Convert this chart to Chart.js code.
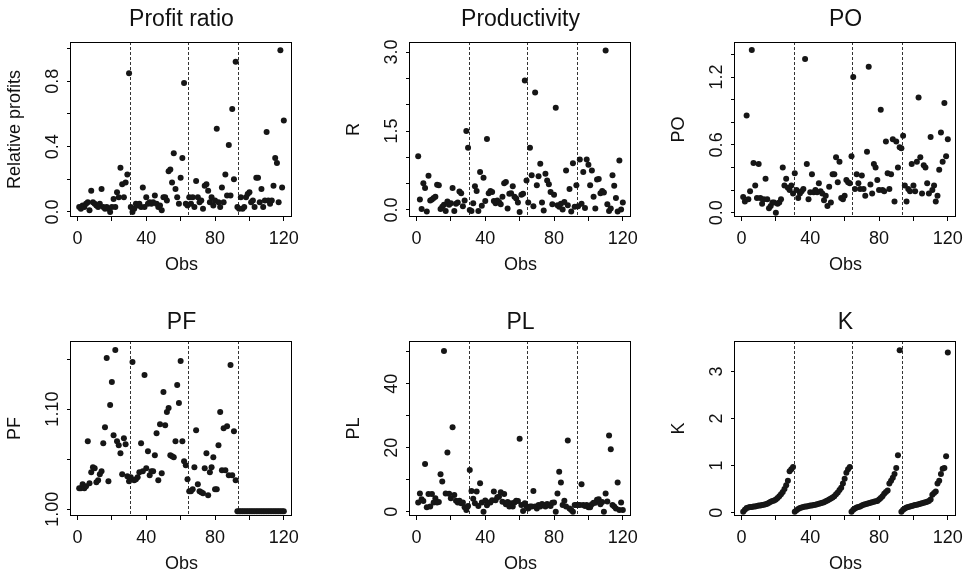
<!DOCTYPE html>
<html><head><meta charset="utf-8">
<script src="https://cdn.jsdelivr.net/npm/chart.js@4/dist/chart.umd.min.js"></script>
<style>
html,body{margin:0;padding:0;background:#fff;}
#wrap{position:relative;width:969px;height:576px;overflow:hidden;background:#fff;}
#wrap canvas{position:absolute;}
</style></head><body><div id="wrap"></div>
<script>
// ---- data ----
const obs = Array.from({length:120},(_,i)=>i+1);

const profitRatio = [
 0.03,0.02,0.04,0.03,0.05,0.06,0.01,0.13,0.06,0.05,
 0.04,0.03,0.05,0.14,0.03,0.02,0.03,0.02,0.00,0.03,
 0.08,0.03,0.12,0.09,0.27,0.17,0.09,0.18,0.23,0.85,
 0.03,0.00,0.02,0.05,0.04,0.05,0.03,0.15,0.03,0.09,
 0.05,0.06,0.05,0.06,0.10,0.05,0.03,0.04,0.01,0.09,
 0.09,0.07,0.25,0.26,0.18,0.36,0.14,0.09,0.05,0.21,
 0.33,0.79,0.05,0.04,0.09,0.05,0.09,0.03,0.19,0.09,
 0.06,0.07,0.02,0.16,0.17,0.13,0.06,0.09,0.04,0.07,
 0.51,0.06,0.03,0.15,0.06,0.23,0.10,0.41,0.10,0.63,
 0.20,0.92,0.03,0.02,0.09,0.02,0.03,0.09,0.11,0.12,
 0.06,0.07,0.03,0.21,0.21,0.06,0.14,0.03,0.07,0.49,
 0.07,0.05,0.07,0.16,0.33,0.30,0.06,0.99,0.15,0.56];

const productivity = [
 1.02,0.20,0.02,0.51,0.42,-0.03,0.65,0.18,0.20,0.23,
 0.25,0.48,0.47,0.02,0.06,0.10,-0.02,0.16,0.10,0.13,
 0.42,-0.02,0.12,0.14,0.35,0.32,0.07,0.18,1.50,1.18,
 0.00,-0.02,0.13,0.45,0.36,-0.02,0.72,0.08,0.61,0.17,
 1.35,0.32,0.36,0.34,0.17,0.13,0.18,0.15,0.11,0.25,
 0.51,0.53,0.03,0.31,0.32,0.45,0.25,0.22,0.14,-0.04,
 0.29,0.31,2.46,0.56,0.14,1.18,0.66,0.07,2.23,0.47,
 0.64,0.88,0.14,-0.01,0.69,0.56,0.49,0.34,0.11,0.29,
 1.94,0.09,0.06,0.12,0.01,0.15,0.75,0.09,0.40,-0.03,
 0.89,0.06,0.47,0.07,0.96,0.12,0.72,0.04,0.96,0.86,
 0.47,0.75,0.25,0.03,0.58,0.59,0.32,0.36,0.33,3.03,
 0.11,-0.02,0.03,0.66,0.46,0.23,-0.03,0.94,0.01,0.14];

const po = [
 0.14,0.10,0.86,0.12,0.19,1.44,0.44,0.24,0.13,0.43,
 0.13,0.08,0.12,0.30,0.12,0.04,0.06,0.09,0.09,0.00,
 0.08,0.09,0.12,0.40,0.24,0.30,0.22,0.20,0.24,0.17,
 0.35,0.20,0.13,0.17,0.19,0.21,1.36,0.43,0.12,0.18,
 0.34,0.18,0.20,0.18,0.26,0.19,0.17,0.11,0.15,0.06,
 0.23,0.09,0.34,0.34,0.49,0.27,0.45,0.13,0.12,0.15,
 0.29,0.27,0.26,0.50,1.20,0.21,0.34,0.26,0.21,0.33,
 0.21,0.15,0.54,1.29,0.25,0.17,0.43,0.40,0.29,0.20,
 0.91,0.20,0.19,0.63,0.35,0.21,0.34,0.65,0.10,0.63,
 0.40,0.58,0.57,0.68,0.24,0.10,0.21,0.19,0.43,0.24,
 0.19,0.45,1.02,0.49,0.17,0.42,0.40,0.26,0.17,0.67,
 0.20,0.24,0.10,0.15,0.38,0.71,0.45,0.97,0.50,0.65];

const pf = [
 1.021,1.021,1.025,1.021,1.023,1.068,1.026,1.037,1.042,1.041,
 1.027,1.029,1.035,1.038,1.066,1.082,1.151,1.028,1.104,1.127,
 1.074,1.159,1.068,1.064,1.056,1.035,1.071,1.065,1.033,1.028,
 1.032,1.147,1.029,1.030,1.032,1.037,1.066,1.038,1.134,1.041,
 1.058,1.034,1.038,1.038,1.054,1.076,1.029,1.085,1.036,1.117,
 1.084,1.097,1.101,1.054,1.053,1.052,1.068,1.124,1.106,1.148,
 1.068,1.048,1.044,1.030,1.018,1.018,1.020,1.042,1.079,1.025,
 1.018,1.017,1.016,1.041,1.056,1.014,1.037,1.042,1.052,1.020,
 1.020,1.064,1.097,1.039,1.081,1.039,1.083,1.034,1.144,1.034,
 1.078,1.029,0.998,0.998,0.998,0.998,0.998,0.998,0.998,0.998,
 0.998,0.998,0.998,0.998,0.998,0.998,0.998,0.998,0.998,0.998,
 0.998,0.998,0.998,0.998,0.998,0.998,0.998,0.998,0.998,0.998];

const pl = [
 2.9,5.7,3.9,3.3,14.9,1.4,5.5,1.6,5.5,2.9,
 4.2,2.9,3.0,11.7,9.4,50.3,5.7,18.5,5.6,4.2,
 26.4,5.2,3.4,2.9,3.4,2.6,2.9,1.4,0.5,1.8,
 13.0,6.5,4.0,2.6,6.3,1.8,8.9,2.9,0.0,3.5,
 2.0,2.9,2.9,3.6,6.3,3.6,4.5,4.7,6.1,3.1,
 5.5,2.3,3.0,1.6,2.6,1.6,2.9,3.4,3.3,22.8,
 2.1,0.2,2.6,1.6,1.0,1.6,1.6,6.5,1.6,1.0,
 2.1,1.6,2.4,2.1,1.6,2.4,2.1,1.8,2.8,2.9,
 0.0,5.7,12.5,9.1,2.1,3.4,1.6,22.3,1.0,0.5,
 0.0,2.1,2.1,2.1,2.1,8.6,2.1,1.8,2.1,1.4,
 1.4,2.3,2.8,2.8,3.7,3.9,2.3,3.0,0.0,5.7,
 3.2,23.8,19.5,2.1,1.6,1.0,9.1,0.5,2.9,0.5];

const k = [
 0.02,0.06,0.10,0.11,0.12,0.12,0.13,0.13,0.14,0.15,
 0.15,0.16,0.17,0.18,0.19,0.21,0.23,0.25,0.26,0.28,
 0.31,0.35,0.39,0.44,0.50,0.58,0.68,0.88,0.92,0.97,
 0.02,0.05,0.08,0.10,0.11,0.12,0.13,0.13,0.14,0.15,
 0.15,0.16,0.17,0.18,0.19,0.20,0.21,0.22,0.24,0.26,
 0.28,0.30,0.32,0.35,0.39,0.43,0.48,0.53,0.62,0.72,
 0.85,0.92,0.97,
 0.02,0.06,0.09,0.11,0.12,0.13,0.15,0.17,0.18,0.19,
 0.20,0.21,0.22,0.23,0.24,0.25,0.28,0.31,0.35,0.40,
 0.44,0.47,0.62,0.68,0.74,0.82,0.95,1.22,3.45,
 0.02,0.06,0.09,0.11,0.12,0.13,0.14,0.15,0.16,0.17,
 0.18,0.19,0.20,0.21,0.22,0.23,0.25,0.28,0.38,0.42,
 0.45,0.62,0.68,0.82,0.93,0.95,1.20,3.40];

const groupBreaks = [30.8, 64.2, 93.1];
const xTickValues = [0,20,40,60,80,100,120];
const xTickLabels = ['0','','40','','80','','120'];
const xRange = [-3.76, 124.76];

const titles  = ['Profit ratio','Productivity','PO','PF','PL','K'];
const yTitles = ['Relative profits','R','PO','PF','PL','K'];
const series  = [profitRatio, productivity, po, pf, pl, k];
const yTickValues = [
 [0,0.2,0.4,0.6,0.8,1.0],
 [0,0.5,1.0,1.5,2.0,2.5,3.0],
 [0,0.2,0.4,0.6,0.8,1.0,1.2,1.4],
 [1.00,1.05,1.10,1.15],
 [0,10,20,30,40,50],
 [0,1,2,3]];
const yTickLabels = [
 ['0.0','','0.4','','0.8',''],
 ['0.0','','','1.5','','','3.0'],
 ['0.0','','','0.6','','','1.2',''],
 ['1.00','','1.10',''],
 ['0','','20','','40',''],
 ['0','1','2','3']];
const yRanges = [[-0.031,1.041],[-0.133,3.19],[-0.038,1.51],[0.9933,1.168],[-1.36,53.4],[-0.071,3.645]];

// ---- layout ----
const FONT = '"Liberation Sans", Arial, Helvetica, sans-serif';
const boxLefts = [71,410,735];
const boxTops = [42,341];
const titleGaps = [24,20];
const BOX_W = 221, BOX_H = 175;
const PAD_L = 70, PAD_T = 40, PAD_R = 12, PAD_B = 62;
const INK = '#111';

const wrap = document.getElementById('wrap');

function makeDecor(i, row){
  return {
    id: 'decor'+i,
    beforeDatasetsDraw(chart){
      const {ctx, chartArea:ca, scales:{x}} = chart;
      ctx.save();
      ctx.strokeStyle = '#333'; ctx.lineWidth = 1; ctx.setLineDash([3,2]);
      groupBreaks.forEach(v=>{
        const px = Math.round(x.getPixelForValue(v)) + 0.5;
        ctx.beginPath(); ctx.moveTo(px, ca.top); ctx.lineTo(px, ca.bottom); ctx.stroke();
      });
      ctx.restore();
    },
    afterDraw(chart){
      const {ctx, chartArea:ca, scales:{x, y}} = chart;
      ctx.save();
      ctx.strokeStyle = '#000'; ctx.lineWidth = 1;
      ctx.strokeRect(Math.round(ca.left)-0.5, Math.round(ca.top)+0.5,
                     Math.round(ca.right)-Math.round(ca.left), Math.round(ca.bottom)-Math.round(ca.top)-1);
      ctx.fillStyle = INK;
      ctx.textAlign = 'center'; ctx.textBaseline = 'alphabetic';
      const cx = (ca.left + ca.right)/2, cy = (ca.top + ca.bottom)/2;
      ctx.font = '23px ' + FONT;
      ctx.fillText(titles[i], cx, ca.top - titleGaps[row] + 8.2);
      ctx.font = '18px ' + FONT;
      xTickValues.forEach((v,j)=>{
        if (!xTickLabels[j]) return;
        ctx.fillText(xTickLabels[j], x.getPixelForValue(v), ca.bottom + 27.4);
      });
      ctx.fillText('Obs', cx, ca.bottom + 53.3);
      yTickValues[i].forEach((v,j)=>{
        const lab = yTickLabels[i][j];
        if (!lab) return;
        ctx.save();
        ctx.translate(ca.left - 13, y.getPixelForValue(v));
        ctx.rotate(-Math.PI/2);
        ctx.fillText(lab, 0, 0);
        ctx.restore();
      });
      ctx.save();
      ctx.translate(ca.left - 51, cy);
      ctx.rotate(-Math.PI/2);
      ctx.fillText(yTitles[i], 0, 0);
      ctx.restore();
      ctx.restore();
    }
  };
}

series.forEach((vals, i)=>{
  const row = Math.floor(i/3), col = i%3;
  const cv = document.createElement('canvas');
  const W = PAD_L + BOX_W + PAD_R, H = PAD_T + BOX_H + PAD_B;
  cv.width = W; cv.height = H;
  cv.style.width = W + 'px'; cv.style.height = H + 'px';
  cv.style.left = (boxLefts[col] - PAD_L) + 'px';
  cv.style.top = (boxTops[row] - PAD_T) + 'px';
  wrap.appendChild(cv);
  new Chart(cv, {
    type: 'scatter',
    data: { datasets: [{
      data: obs.map((o,j)=>({x:o, y:vals[j]})),
      pointRadius: 3, pointHoverRadius: 3,
      backgroundColor: '#161616', borderWidth: 0, pointBorderWidth: 0
    }]},
    options: {
      responsive: false, animation: false, devicePixelRatio: 1,
      events: [],
      layout: { padding: { top: PAD_T, right: PAD_R, left: 0, bottom: 0 } },
      plugins: { legend: {display:false}, tooltip: {enabled:false}, title: {display:false} },
      scales: {
        x: {
          type: 'linear', min: xRange[0], max: xRange[1],
          afterBuildTicks: s => { s.ticks = xTickValues.map(v=>({value:v})); },
          afterFit: s => { s.height = PAD_B; },
          ticks: { display: false },
          grid: { drawOnChartArea: false, drawTicks: true, tickLength: 4, color: '#000', lineWidth: 1 },
          border: { display: false }
        },
        y: {
          type: 'linear', min: yRanges[i][0], max: yRanges[i][1],
          afterBuildTicks: s => { s.ticks = yTickValues[i].map(v=>({value:v})); },
          afterFit: s => { s.width = PAD_L; },
          ticks: { display: false },
          grid: { drawOnChartArea: false, drawTicks: true, tickLength: 4, color: '#000', lineWidth: 1 },
          border: { display: false }
        }
      }
    },
    plugins: [makeDecor(i, row)]
  });
});
</script>
</body></html>
